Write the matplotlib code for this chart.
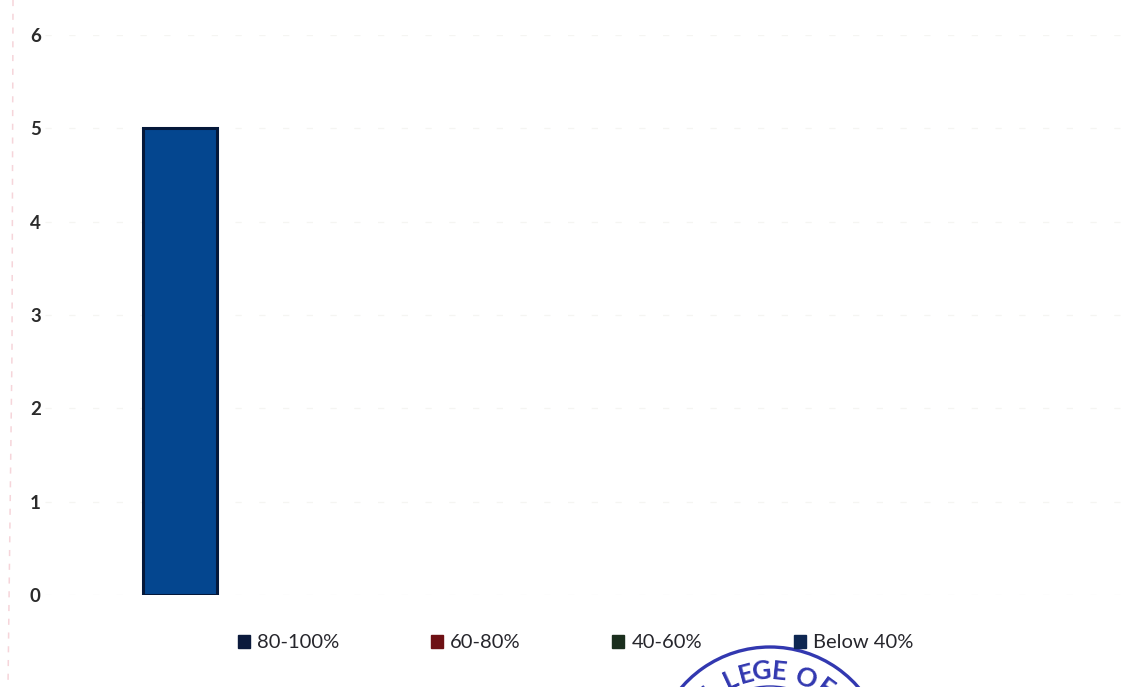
import numpy as np
import matplotlib
matplotlib.use("Agg")
import matplotlib.pyplot as plt
from matplotlib.patches import Arc, Patch

W, H = 1128, 687

categories = ["80-100%", "60-80%", "40-60%", "Below 40%"]
values = [5, 0, 0, 0]
legend_colors = ["#0b1a3c", "#6e1014", "#1b2f1e", "#0e2752"]
y_ticks = [0, 1, 2, 3, 4, 5, 6]
stamp_letters = ["L", "L", "E", "G", "E", "O", "F"]
stamp_angles = [-39, -25, -15, -5, 6, 23, 36]

plt.rcParams["font.family"] = ["Lato", "DejaVu Sans"]

fig = plt.figure(figsize=(W / 100, H / 100), dpi=100, facecolor="white")
ax = fig.add_axes([45 / W, (H - 595) / H, 1080 / W, 560 / H])

x = np.arange(len(categories))
widths = [2.2 if v > 0 else 0 for v in values]
ax.bar(x, values, width=0.272, color="#04468f", edgecolor="#04183a", linewidth=widths, zorder=3)

ax.set_xlim(-0.5, 3.5)
ax.set_ylim(0, 6)
ax.set_xticks([])
ax.set_yticks(y_ticks)
ax.tick_params(axis="y", length=0, pad=3, labelsize=13.5, labelcolor="#2b2b2b")
for lab in ax.get_yticklabels():
    lab.set_fontweight("bold")
ax.grid(axis="y", color="#f5f5f2", linestyle=(0, (5, 14)), linewidth=0.9)
for s in ax.spines.values():
    s.set_visible(False)

handles = [Patch(facecolor=c, edgecolor=c) for c in legend_colors]
fig.legend(handles, categories, loc="center left", bbox_to_anchor=(238 / W, (H - 643) / H),
           ncol=4, frameon=False, fontsize=14.5, handlelength=0.6, handleheight=0.6,
           handletextpad=0.35, columnspacing=4.55, borderpad=0, borderaxespad=0,
           labelcolor="#26262c")

# scan edge and stamp sit on an overlay in pixel coordinates
over = fig.add_axes([0, 0, 1, 1], facecolor="none")
over.set_xlim(0, W)
over.set_ylim(H, 0)
over.axis("off")
over.plot([13, 12, 8], [0, 350, H], color="#f6d5da", linestyle=(0, (4, 5)), linewidth=1.1)

cx, cy = 770, 764
stamp = "#3238b0"
over.add_patch(Arc((cx, cy), 234, 234, theta1=200, theta2=340, color=stamp, linewidth=2.4))
over.add_patch(Arc((cx, cy), 156, 156, theta1=230, theta2=310, color=stamp, linewidth=1.0))
for ch, ang in zip(stamp_letters, stamp_angles):
    a = np.radians(ang)
    over.text(cx + 93 * np.sin(a), cy - 93 * np.cos(a), ch, rotation=-ang, rotation_mode="anchor",
              ha="center", va="center", color=stamp, fontsize=19, fontweight="bold", clip_on=True)

fig.savefig("out.png", dpi=100, facecolor="white")
